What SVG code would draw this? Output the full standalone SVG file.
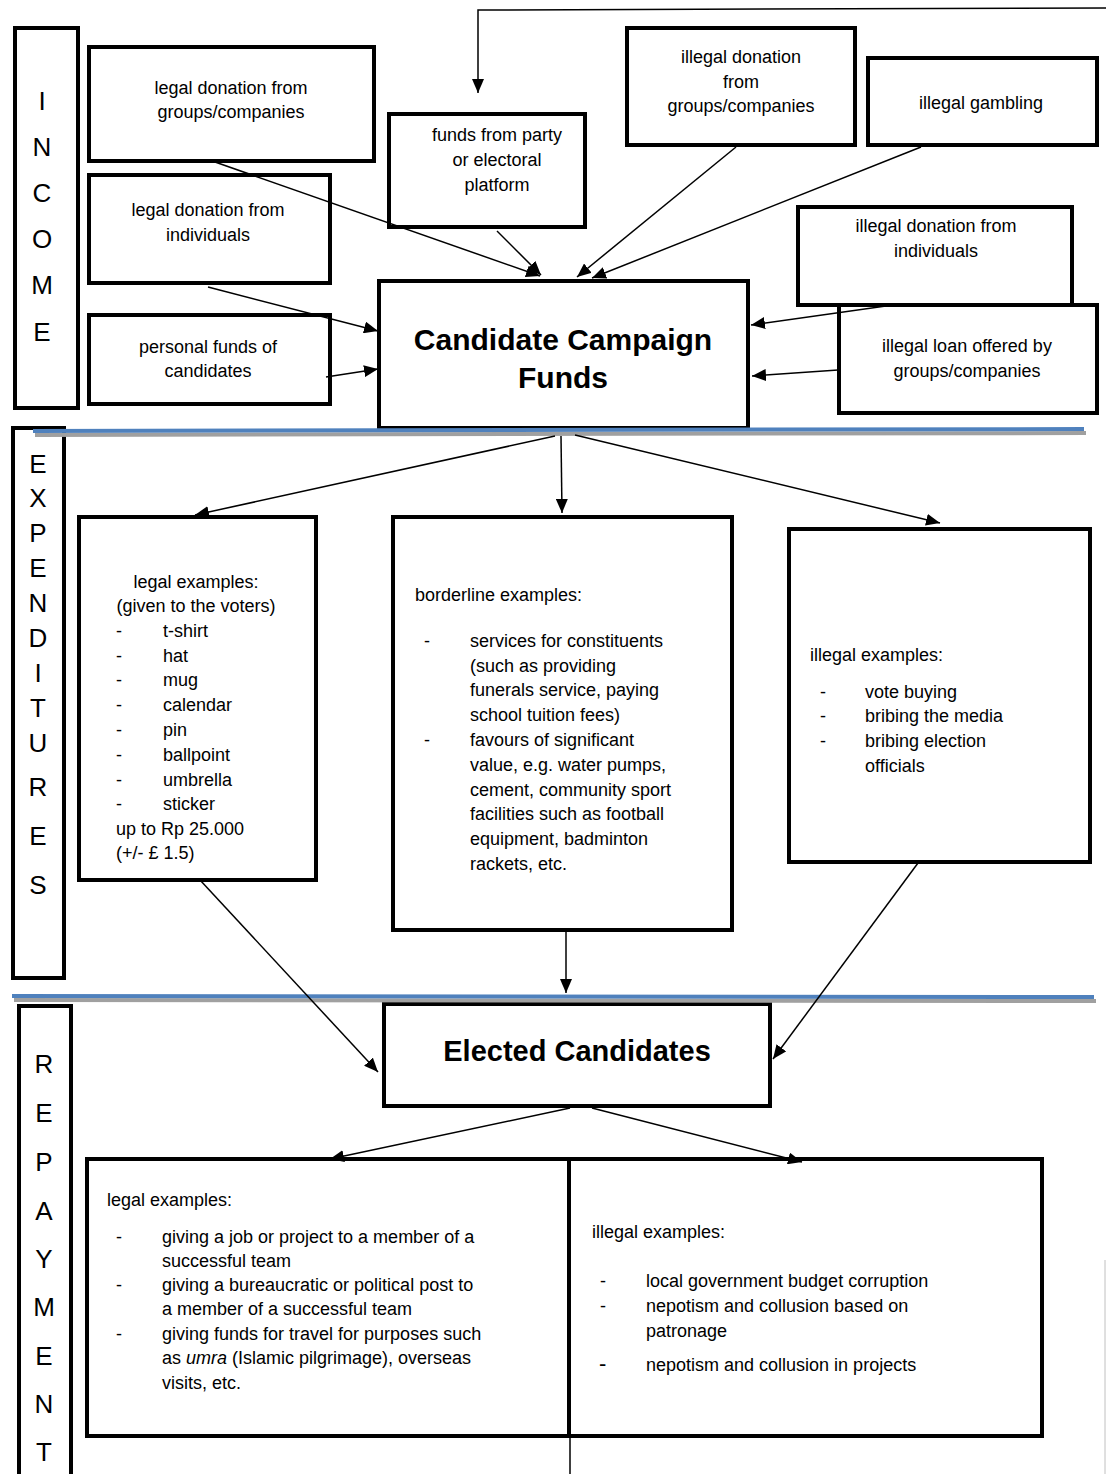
<svg xmlns="http://www.w3.org/2000/svg" width="1106" height="1474" viewBox="0 0 1106 1474">
<style>
.box{fill:#fff;stroke:#000;stroke-width:4}
.t{font-family:"Liberation Sans",Arial,sans-serif;font-size:18px;fill:#000}
.c{text-anchor:middle}
.big{font-family:"Liberation Sans",Arial,sans-serif;font-size:30px;font-weight:bold;text-anchor:middle}
.sec{font-family:"Liberation Sans",Arial,sans-serif;font-size:26px;text-anchor:middle}
.con{stroke:#000;stroke-width:1.5;fill:none}
.blue{stroke:#4f81bd;stroke-width:4}
.shadow{stroke:#a0a0a0;stroke-width:4}
</style>
<defs>
<marker id="ah" viewBox="0 0 14 12" refX="14" refY="6" markerWidth="14" markerHeight="12" markerUnits="userSpaceOnUse" orient="auto"><path d="M0,0 L14,6 L0,12 z" fill="#000"/></marker>
</defs>
<rect width="1106" height="1474" fill="#fff"/>

<!-- section labels -->
<g id="income">
<rect class="box" x="15" y="28" width="63" height="380"/>
<text class="sec" x="42" y="110">I</text>
<text class="sec" x="42" y="156">N</text>
<text class="sec" x="42" y="202">C</text>
<text class="sec" x="42" y="248">O</text>
<text class="sec" x="42" y="294">M</text>
<text class="sec" x="42" y="341">E</text>
</g>
<g id="expenditures">
<rect class="box" x="13" y="428" width="51" height="550"/>
<text class="sec" x="38" y="473">E</text>
<text class="sec" x="38" y="507">X</text>
<text class="sec" x="38" y="542">P</text>
<text class="sec" x="38" y="577">E</text>
<text class="sec" x="38" y="612">N</text>
<text class="sec" x="38" y="647">D</text>
<text class="sec" x="38" y="682">I</text>
<text class="sec" x="38" y="717">T</text>
<text class="sec" x="38" y="752">U</text>
<text class="sec" x="38" y="796">R</text>
<text class="sec" x="38" y="845">E</text>
<text class="sec" x="38" y="894">S</text>
</g>
<g id="repayment">
<rect class="box" x="19" y="1006" width="52" height="480"/>
<text class="sec" x="44" y="1073">R</text>
<text class="sec" x="44" y="1122">E</text>
<text class="sec" x="44" y="1171">P</text>
<text class="sec" x="44" y="1220">A</text>
<text class="sec" x="44" y="1268">Y</text>
<text class="sec" x="44" y="1316">M</text>
<text class="sec" x="44" y="1365">E</text>
<text class="sec" x="44" y="1413">N</text>
<text class="sec" x="44" y="1461">T</text>
</g>

<!-- income nodes -->
<g id="legal-donation-groups">
<rect class="box" x="89" y="47" width="285" height="114"/>
<text class="t c" x="231" y="94">legal donation from</text>
<text class="t c" x="231" y="118">groups/companies</text>
</g>
<g id="funds-party">
<rect class="box" x="389" y="114" width="196" height="113"/>
<text class="t c" x="497" y="141">funds from party</text>
<text class="t c" x="497" y="166">or electoral</text>
<text class="t c" x="497" y="191">platform</text>
</g>
<g id="illegal-donation-groups">
<rect class="box" x="627" y="28" width="228" height="117"/>
<text class="t c" x="741" y="63">illegal donation</text>
<text class="t c" x="741" y="88">from</text>
<text class="t c" x="741" y="112">groups/companies</text>
</g>
<g id="illegal-gambling">
<rect class="box" x="868" y="58" width="229" height="87"/>
<text class="t c" x="981" y="109">illegal gambling</text>
</g>
<g id="legal-donation-individuals">
<rect class="box" x="89" y="175" width="241" height="108"/>
<text class="t c" x="208" y="216">legal donation from</text>
<text class="t c" x="208" y="241">individuals</text>
</g>
<g id="illegal-donation-individuals">
<rect class="box" x="798" y="207" width="274" height="98"/>
<text class="t c" x="936" y="232">illegal donation from</text>
<text class="t c" x="936" y="257">individuals</text>
</g>
<g id="personal-funds">
<rect class="box" x="89" y="315" width="241" height="89"/>
<text class="t c" x="208" y="353">personal funds of</text>
<text class="t c" x="208" y="377">candidates</text>
</g>
<g id="campaign-funds">
<rect class="box" x="379" y="281" width="369" height="147"/>
<text class="big" x="563" y="350">Candidate Campaign</text>
<text class="big" x="563" y="388">Funds</text>
</g>
<g id="illegal-loan">
<rect class="box" x="839" y="305" width="258" height="108"/>
<text class="t c" x="967" y="352">illegal loan offered by</text>
<text class="t c" x="967" y="377">groups/companies</text>
</g>

<!-- expenditure nodes -->
<g id="exp-legal">
<rect class="box" x="79" y="517" width="237" height="363"/>
<text class="t c" x="196" y="588">legal examples:</text>
<text class="t c" x="196" y="612">(given to the voters)</text>
<text class="t" x="116" y="637">-</text><text class="t" x="163" y="637">t-shirt</text>
<text class="t" x="116" y="662">-</text><text class="t" x="163" y="662">hat</text>
<text class="t" x="116" y="686">-</text><text class="t" x="163" y="686">mug</text>
<text class="t" x="116" y="711">-</text><text class="t" x="163" y="711">calendar</text>
<text class="t" x="116" y="736">-</text><text class="t" x="163" y="736">pin</text>
<text class="t" x="116" y="761">-</text><text class="t" x="163" y="761">ballpoint</text>
<text class="t" x="116" y="786">-</text><text class="t" x="163" y="786">umbrella</text>
<text class="t" x="116" y="810">-</text><text class="t" x="163" y="810">sticker</text>
<text class="t" x="116" y="835">up to Rp 25.000</text>
<text class="t" x="116" y="859">(+/- £ 1.5)</text>
</g>
<g id="exp-borderline">
<rect class="box" x="393" y="517" width="339" height="413"/>
<text class="t" x="415" y="601">borderline examples:</text>
<text class="t" x="424" y="647">-</text><text class="t" x="470" y="647">services for constituents</text>
<text class="t" x="470" y="672">(such as providing</text>
<text class="t" x="470" y="696">funerals service, paying</text>
<text class="t" x="470" y="721">school tuition fees)</text>
<text class="t" x="424" y="746">-</text><text class="t" x="470" y="746">favours of significant</text>
<text class="t" x="470" y="771">value, e.g. water pumps,</text>
<text class="t" x="470" y="796">cement, community sport</text>
<text class="t" x="470" y="820">facilities such as football</text>
<text class="t" x="470" y="845">equipment, badminton</text>
<text class="t" x="470" y="870">rackets, etc.</text>
</g>
<g id="exp-illegal">
<rect class="box" x="789" y="529" width="301" height="333"/>
<text class="t" x="810" y="661">illegal examples:</text>
<text class="t" x="820" y="698">-</text><text class="t" x="865" y="698">vote buying</text>
<text class="t" x="820" y="722">-</text><text class="t" x="865" y="722">bribing the media</text>
<text class="t" x="820" y="747">-</text><text class="t" x="865" y="747">bribing election</text>
<text class="t" x="865" y="772">officials</text>
</g>

<!-- repayment nodes -->
<g id="elected">
<rect class="box" x="384" y="1004" width="386" height="102"/>
<text class="big" x="577" y="1061" style="font-size:29px">Elected Candidates</text>
</g>
<g id="rep-legal">
<rect class="box" x="87" y="1159" width="483" height="277"/>
<text class="t" x="107" y="1206">legal examples:</text>
<text class="t" x="116" y="1243">-</text><text class="t" x="162" y="1243">giving a job or project to a member of a</text>
<text class="t" x="162" y="1267">successful team</text>
<text class="t" x="116" y="1291">-</text><text class="t" x="162" y="1291">giving a bureaucratic or political post to</text>
<text class="t" x="162" y="1315">a member of a successful team</text>
<text class="t" x="116" y="1340">-</text><text class="t" x="162" y="1340">giving funds for travel for purposes such</text>
<text class="t" x="162" y="1364">as <tspan font-style="italic">umra</tspan> (Islamic pilgrimage), overseas</text>
<text class="t" x="162" y="1389">visits, etc.</text>
</g>
<g id="rep-illegal">
<rect class="box" x="569" y="1159" width="473" height="277"/>
<line x1="570" y1="1436" x2="570" y2="1474" stroke="#000" stroke-width="1.5"/>
<text class="t" x="592" y="1238">illegal examples:</text>
<text class="t" x="600" y="1287">-</text><text class="t" x="646" y="1287">local government budget corruption</text>
<text class="t" x="600" y="1312">-</text><text class="t" x="646" y="1312">nepotism and collusion based on</text>
<text class="t" x="646" y="1337">patronage</text>
<text class="t" x="599" y="1371" style="font-size:22px">-</text><text class="t" x="646" y="1371">nepotism and collusion in projects</text>
</g>

<!-- separators (drawn over boxes) -->
<g id="separators">
<line class="shadow" x1="35" y1="435" x2="1086" y2="433"/>
<line class="blue" x1="33" y1="431" x2="1084" y2="429"/>
<line class="shadow" x1="14" y1="1000" x2="1096" y2="1001"/>
<line class="blue" x1="12" y1="996" x2="1094" y2="997"/>
<line x1="1105" y1="1260" x2="1105" y2="1474" stroke="#c0c0c0" stroke-width="1"/>
</g>

<!-- connectors -->
<g id="connectors">
<polyline class="con" points="1106,8 478,10 478,93" marker-end="url(#ah)"/>
<line class="con" x1="215" y1="162" x2="540" y2="276" marker-end="url(#ah)"/>
<line class="con" x1="497" y1="231" x2="541" y2="275" marker-end="url(#ah)"/>
<line class="con" x1="736" y1="147" x2="577" y2="277" marker-end="url(#ah)"/>
<line class="con" x1="921" y1="147" x2="592" y2="278" marker-end="url(#ah)"/>
<line class="con" x1="208" y1="287" x2="378" y2="331" marker-end="url(#ah)"/>
<line class="con" x1="893" y1="305" x2="751" y2="325" marker-end="url(#ah)"/>
<line class="con" x1="326" y1="377" x2="378" y2="369" marker-end="url(#ah)"/>
<line class="con" x1="838" y1="370" x2="752" y2="376" marker-end="url(#ah)"/>
<line class="con" x1="555" y1="436" x2="195" y2="515" marker-end="url(#ah)"/>
<line class="con" x1="561" y1="436" x2="562" y2="513" marker-end="url(#ah)"/>
<line class="con" x1="575" y1="435" x2="940" y2="523" marker-end="url(#ah)"/>
<line class="con" x1="200" y1="880" x2="378" y2="1072" marker-end="url(#ah)"/>
<line class="con" x1="566" y1="931" x2="566" y2="993" marker-end="url(#ah)"/>
<line class="con" x1="918" y1="863" x2="773" y2="1059" marker-end="url(#ah)"/>
<line class="con" x1="570" y1="1108" x2="330" y2="1159" marker-end="url(#ah)"/>
<line class="con" x1="592" y1="1108" x2="802" y2="1162" marker-end="url(#ah)"/>
</g>
</svg>
